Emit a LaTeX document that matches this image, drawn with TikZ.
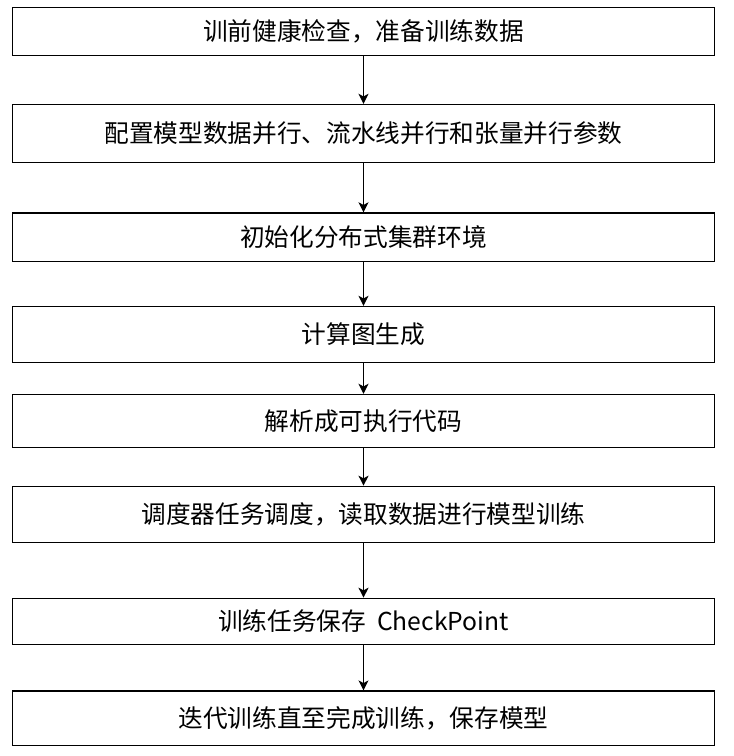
\documentclass[tikz,border=0pt]{standalone}
\usepackage{fontspec}
\setmainfont{Noto Sans CJK SC}
\usetikzlibrary{arrows.meta}
\tikzset{every picture/.style={line width=0.9pt}}

\begin{document}
\begin{tikzpicture}[x=0.75pt,y=0.75pt,yscale=-1,xscale=1,
  stepbox/.style={draw, rectangle, inner sep=0pt, minimum width=526.5pt, font=\fontsize{18.5}{22}\selectfont},
  flow/.style={-{Stealth[length=7.5pt,width=7.5pt,inset=2pt]}}]
\useasboundingbox (0,0) rectangle (734,756);

%Shape: Rectangle
\node [stepbox, minimum height=36pt] (check) at (363.5,31.5) {训前健康检查，准备训练数据};
%Shape: Rectangle
\node [stepbox, minimum height=43.5pt] (config) at (363.5,133.4) {配置模型数据并行、流水线并行和张量并行参数};
%Shape: Rectangle
\node [stepbox, minimum height=36.6pt] (cluster) at (363.5,237.3) {初始化分布式集群环境};
%Shape: Rectangle
\node [stepbox, minimum height=42pt] (graph) at (363.5,334.4) {计算图生成};
%Shape: Rectangle
\node [stepbox, minimum height=39.8pt] (parse) at (363.5,420.9) {解析成可执行代码};
%Shape: Rectangle
\node [stepbox, minimum height=42.3pt] (sched) at (363.5,514.5) {调度器任务调度，读取数据进行模型训练};
%Shape: Rectangle
\node [stepbox, minimum height=34.8pt] (ckpt) at (363.5,621.5) {训练任务保存 \ CheckPoint};
%Shape: Rectangle
\node [stepbox, minimum height=40.8pt] (iter) at (363.5,718.2) {迭代训练直至完成训练，保存模型};

%Straight Lines
\foreach \a/\b in {check/config, config/cluster, cluster/graph, graph/parse, parse/sched, sched/ckpt, ckpt/iter}
  \draw [flow] (\a) -- (\b);

\end{tikzpicture}
\end{document}
